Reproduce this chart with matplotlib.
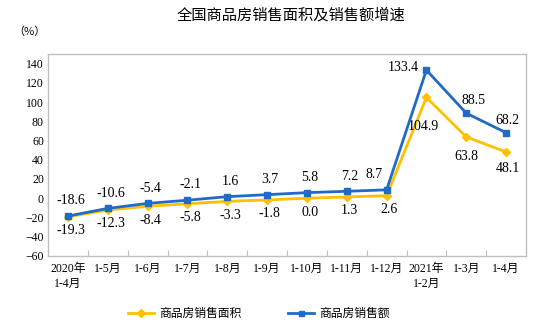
import numpy as np
import matplotlib
matplotlib.use('Agg')
import matplotlib.pyplot as plt

plt.rcParams['font.family'] = ['Liberation Serif', 'Noto Sans CJK SC', 'DejaVu Sans']

## == data ==
months = ['2020年\n1-4月', '1-5月', '1-6月', '1-7月', '1-8月', '1-9月', '1-10月',
          '1-11月', '1-12月', '2021年\n1-2月', '1-3月', '1-4月']
area_growth = [-19.3, -12.3, -8.4, -5.8, -3.3, -1.8, 0.0, 1.3, 2.6, 104.9, 63.8, 48.1]
sales_growth = [-18.6, -10.6, -5.4, -2.1, 1.6, 3.7, 5.8, 7.2, 8.7, 133.4, 88.5, 68.2]
area_name = '商品房销售面积'
sales_name = '商品房销售额'

yellow = '#FFC000'
blue = '#1F6BC5'
frame = '#BFBFBF'

fig = plt.figure(figsize=(5.34, 3.28), dpi=100)
ax = fig.add_axes([0.09, 0.22, 0.895, 0.615])

x = np.arange(len(months))
ax.plot(x, area_growth, color=yellow, lw=2, marker='D', ms=4.5, label=area_name, zorder=3)
ax.plot(x, sales_growth, color=blue, lw=2, marker='s', ms=4.5, label=sales_name, zorder=4)

# value labels: sales above, area below (a few nudged as in the original)
sales_ofs = {8: (-9, 11), 9: (-17, 2), 10: (5, 9), 11: (1, 9)}
area_ofs = {9: (-2, -21), 10: (0, -14), 11: (1, -12)}
for i in x:
    dx, dy = sales_ofs.get(i, (2, 11))
    ax.annotate('%.1f' % sales_growth[i], (i, sales_growth[i]), xytext=(dx, dy),
                textcoords='offset points', ha='center', va='center', fontsize=10)
    dx, dy = area_ofs.get(i, (2, -10))
    ax.annotate('%.1f' % area_growth[i], (i, area_growth[i]), xytext=(dx, dy),
                textcoords='offset points', ha='center', va='center', fontsize=10)

ax.set_xlim(-0.5, len(months) - 0.5)
ax.set_ylim(-60, 150)
ax.set_yticks(np.arange(-60, 141, 20))
ax.tick_params(axis='y', length=0, labelsize=8.5, pad=3)
ax.set_xticks(x)
ax.set_xticklabels(months, fontsize=8.5, linespacing=1.4)
ax.tick_params(axis='x', length=0, pad=5)
# category boundary ticks pointing inward
ax.set_xticks(np.arange(0.5, len(months) - 1, 1), minor=True)
ax.tick_params(axis='x', which='minor', direction='in', length=4, color=frame, width=0.8)
for s in ax.spines.values():
    s.set_color(frame)
    s.set_linewidth(1)

fig.text(0.545, 0.953, '全国商品房销售面积及销售额增速', ha='center', va='center', fontsize=11,
         family=['Noto Sans CJK SC', 'DejaVu Sans'])
fig.text(0.025, 0.905, '（%）', ha='left', va='center', fontsize=8,
         family=['Noto Sans CJK SC', 'DejaVu Sans'])

fig.legend(loc='center', bbox_to_anchor=(0.485, 0.045), ncol=2, frameon=False,
           handlelength=2.2, handletextpad=0.4, columnspacing=4.0, markerscale=0.8,
           prop={'family': ['Noto Sans CJK SC', 'DejaVu Sans'], 'size': 8.5})

fig.savefig('out.png', dpi=100)
